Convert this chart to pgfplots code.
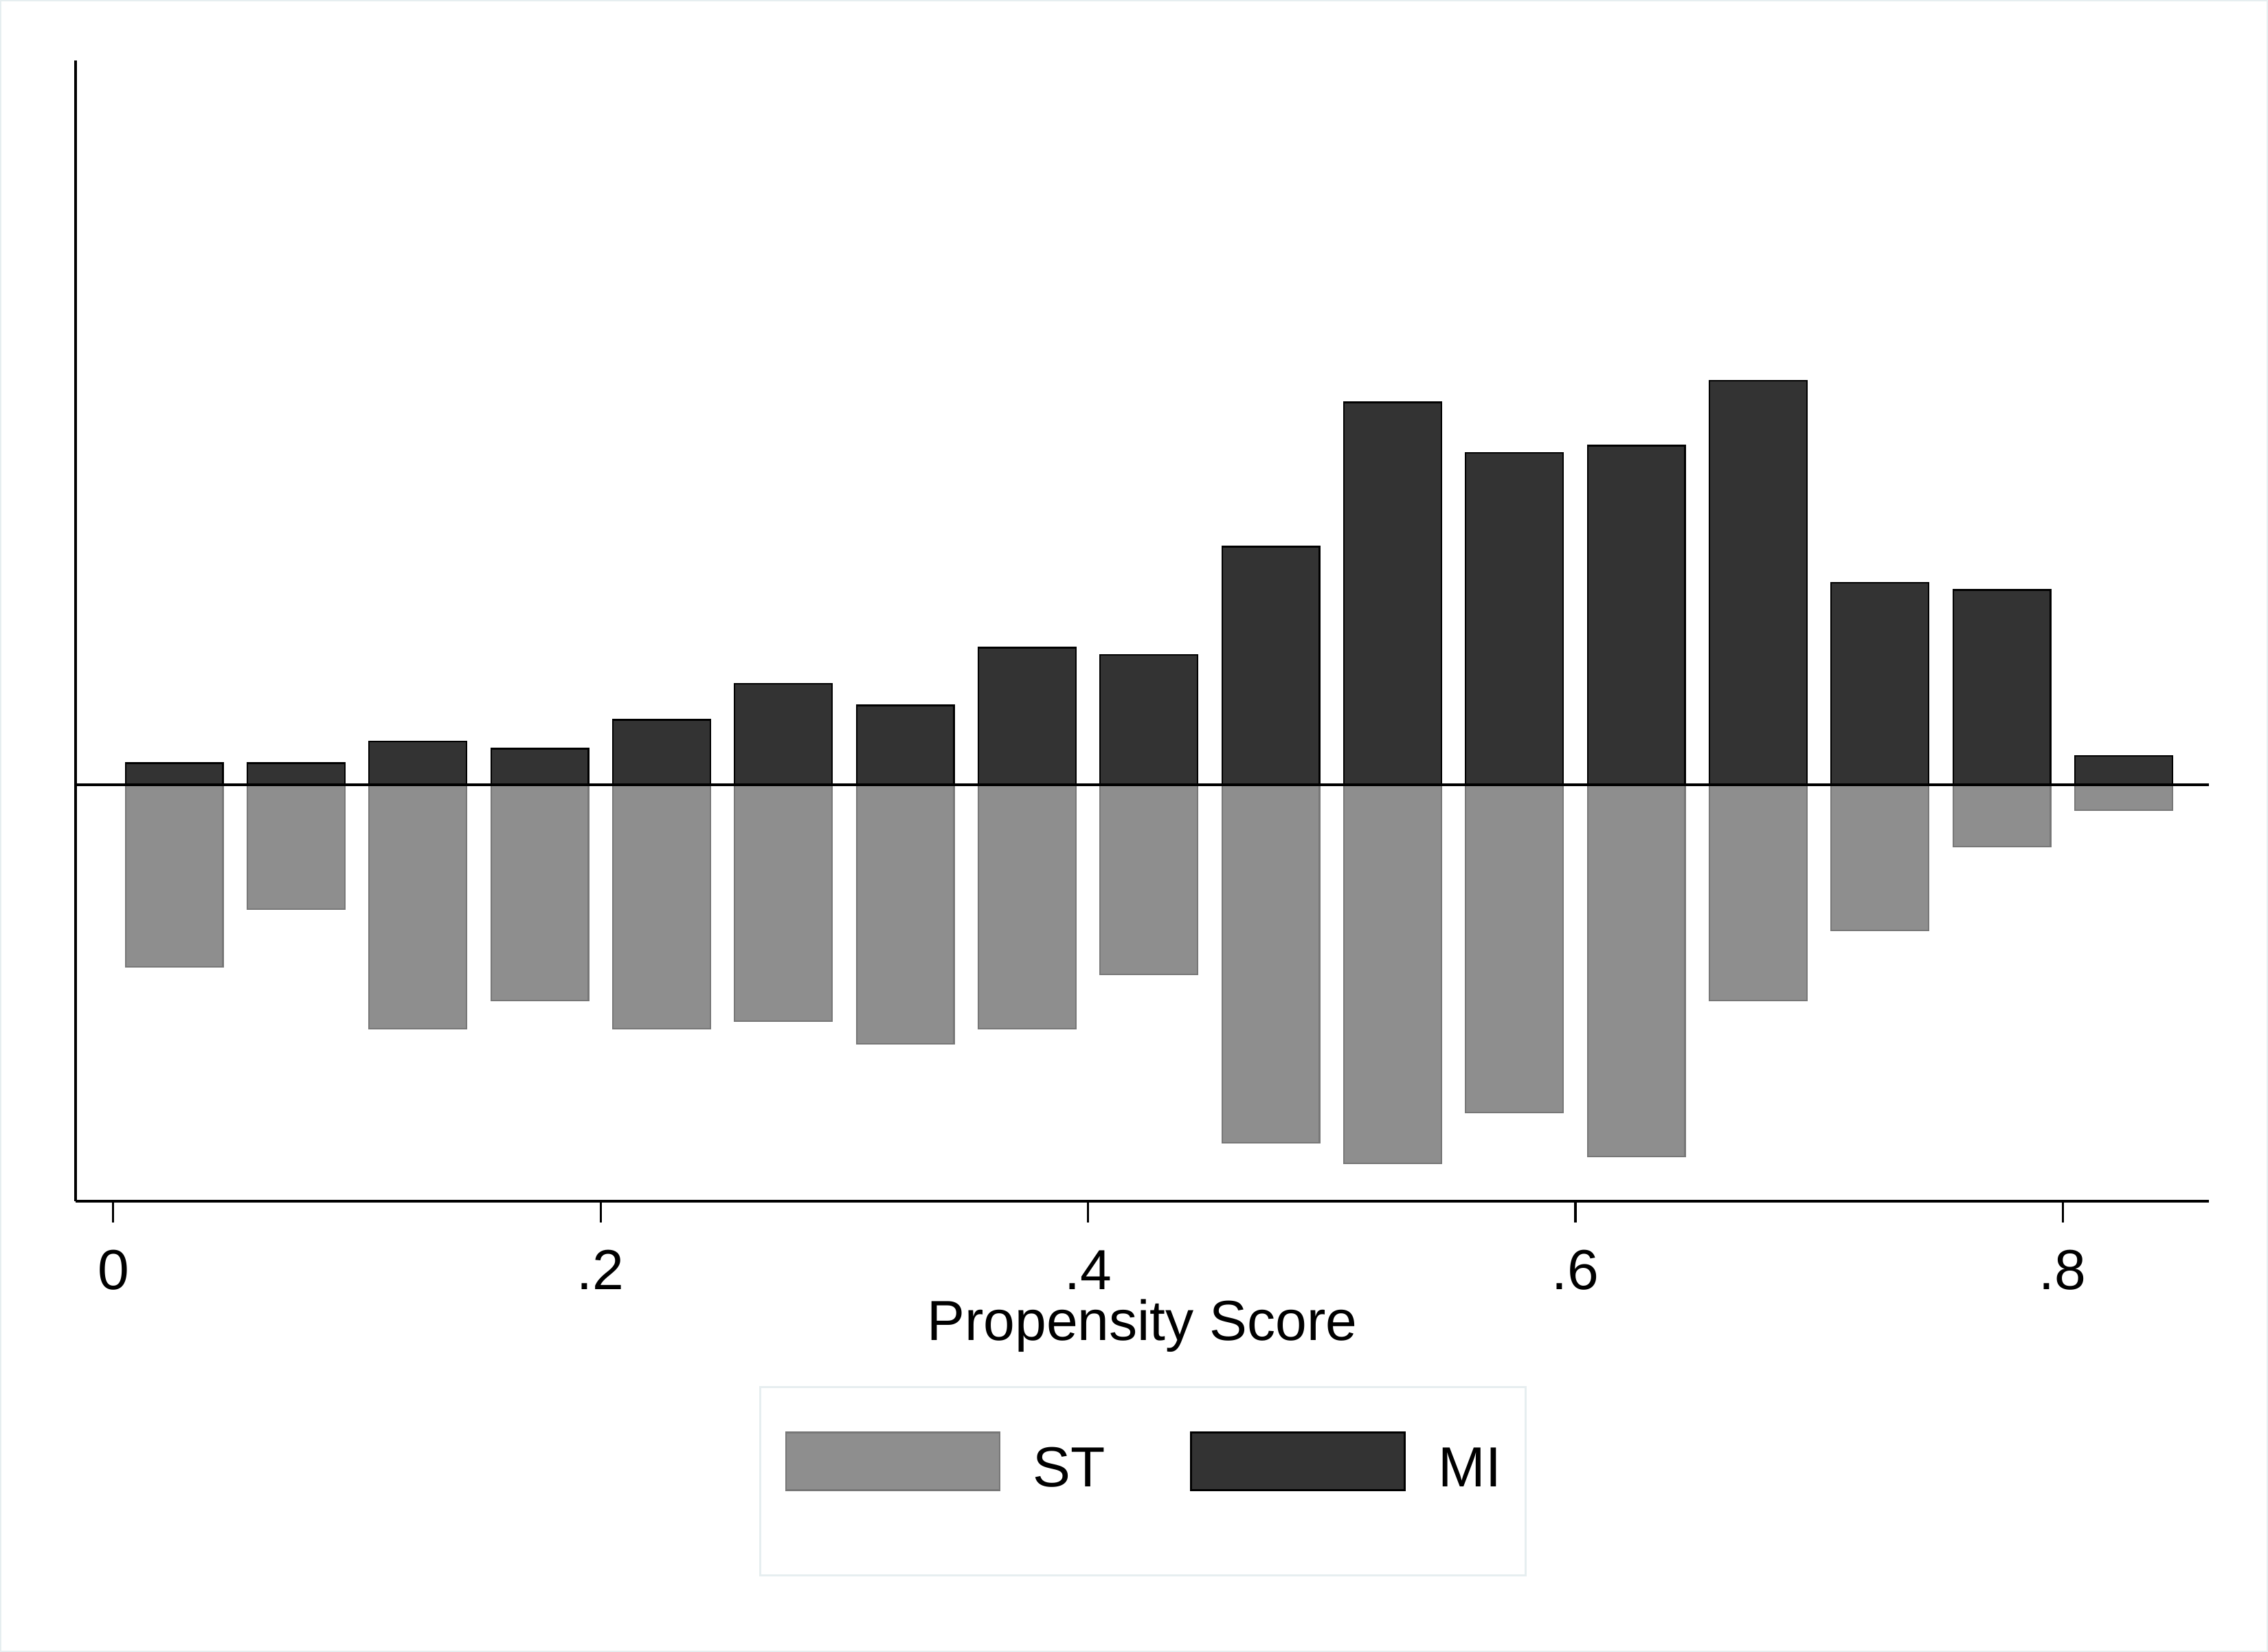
\documentclass[border=0pt]{standalone}
\usepackage{fontspec}
\setmainfont{Liberation Sans}
\usepackage{pgfplots}
\usepackage{pgfplotstable}
\pgfplotsset{compat=1.18}
\definecolor{mi}{HTML}{333333}
\definecolor{st}{HTML}{8E8E8E}
\definecolor{stedge}{HTML}{777777}
\definecolor{framec}{HTML}{E6EEF0}

\pgfplotstableread{
x      st     mi
0.025 -25.2   3
0.075 -17.2   3
0.125 -33.8   6
0.175 -29.9   5
0.225 -33.8   9
0.275 -32.8  14
0.325 -35.9  11
0.375 -33.8  19
0.425 -26.3  18
0.475 -49.6  33
0.525 -52.5  53
0.575 -45.4  46
0.625 -51.5  47
0.675 -29.9  56
0.725 -20.2  28
0.775  -8.6  27
0.825  -3.5   4
}\data

\pgfplotsset{mylegend/.style={legend image code/.code={%
  \path[draw=none, fill=none] (0mm,-3.2mm) rectangle (15.55mm,3.95mm);
  \draw[##1] (0mm,-0.25mm) rectangle (15.55mm,3.95mm);}}}

\begin{document}
\begin{tikzpicture}
\useasboundingbox (-5.5mm,-32.8mm) rectangle (159.55mm,87.4mm);
\draw[framec, line width=0.12mm] (-5.44mm,-32.74mm) rectangle (159.49mm,87.34mm);
\begin{axis}[
  scale only axis, width=155.25mm, height=83mm,
  xmin=-0.01548, xmax=0.860, ymin=-57.71, ymax=100.38,
  axis x line*=bottom, axis y line*=left,
  axis line style={-, line width=0.5pt, black},
  ytick=\empty,
  xtick={0,0.2,0.4,0.6,0.8}, xticklabels={0,.2,.4,.6,.8},
  tick align=outside, major tick length=1.55mm,
  every tick/.style={black, line width=0.45pt},
  xticklabel style={anchor=base, inner sep=0pt},
  xticklabel shift=4.9mm,
  xlabel={Propensity Score},
  xlabel style={at={(axis description cs:0.5,-0.12229)}, anchor=base, inner sep=0pt},
  font=\fontsize{11.7}{14}\selectfont,
  legend columns=2,
  legend style={at={(axis description cs:0.3205,-0.162)}, anchor=north west,
    draw=framec, line width=0.15mm, inner xsep=1.8mm, inner ysep=3.25mm,
    nodes={inner sep=0pt, text depth=0pt}, cells={anchor=base west},
    /tikz/every odd column/.append style={column sep=2.4mm},
    /tikz/every even column/.append style={column sep=6.18mm}},
]
\addplot[ybar, bar width=0.04, fill=st, draw=stedge, line width=0.3pt, mylegend] table[x=x,y=st]{\data};
\addlegendentry{ST}
\addplot[ybar, bar width=0.04, fill=mi, draw=black, line width=0.3pt, mylegend] table[x=x,y=mi]{\data};
\addlegendentry{MI}
\addplot[black, line width=0.55pt, forget plot] coordinates {(-0.01548,0) (0.860,0)};
\end{axis}
\end{tikzpicture}
\end{document}
